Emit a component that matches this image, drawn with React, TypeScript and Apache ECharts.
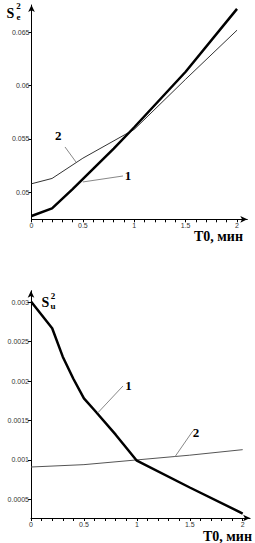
import React, { useEffect, useRef } from "react";
import * as echarts from "echarts";

// ---- data ----
const topCurve1X = [0, 0.2, 0.4, 0.6, 0.8, 1, 1.5, 2];
const topCurve1Y = [0.04778, 0.0485, 0.0503, 0.0522, 0.0541, 0.0561, 0.0613, 0.0672];
const topCurve2X = [0, 0.2, 0.5, 1, 1.5, 2];
const topCurve2Y = [0.0508, 0.0513, 0.0532, 0.0559, 0.0606, 0.0652];

const botCurve1X = [0, 0.2, 0.3, 0.4, 0.5, 0.6, 0.8, 1, 1.5, 2];
const botCurve1Y = [0.00301, 0.00267, 0.00231, 0.00203, 0.00178, 0.00163, 0.00132, 0.00099, 0.00065, 0.00032];
const botCurve2X = [0, 0.5, 1, 1.5, 2];
const botCurve2Y = [0.00091, 0.00094, 0.001, 0.00106, 0.00113];

const xLabelValues = [0, 0.5, 1, 1.5, 2];
const xTickValues = [0, 0.1, 0.2, 0.3, 0.4, 0.5, 0.6, 0.7, 0.8, 0.9, 1, 1.1, 1.2, 1.3, 1.4, 1.5, 1.6, 1.7, 1.8, 1.9, 2];
const topYTicks = [0.05, 0.055, 0.06, 0.065];
const botYTicks = [0.0005, 0.001, 0.0015, 0.002, 0.0025, 0.003];

// annotation leader lines (data coordinates) and label anchors
const topLeader2 = [[0.433, 0.05284], [0.326, 0.05425]];
const topLabel2 = [0.26, 0.0553];
const topLeader1 = [[0.5, 0.05097], [0.89, 0.05153]];
const topLabel1 = [0.94, 0.05155];
const botLeader1 = [[0.633, 0.0016], [0.869, 0.001938]];
const botLabel1 = [0.92, 0.00194];
const botLeader2 = [[1.36, 0.00104], [1.53, 0.00137]];
const botLabel2 = [1.56, 0.00135];

const xAxisLabel = "T0, мин";

const zip = (xs: number[], ys: number[]) => xs.map((x, i) => [x, ys[i]]);

const serif = "'Liberation Serif', 'DejaVu Serif', serif";
const sans = "'Liberation Sans', Arial, sans-serif";

function makeXAxis(gridIndex: number, max: number) {
  return {
    type: "value",
    gridIndex,
    min: 0,
    max,
    axisLine: {
      show: true,
      onZero: false,
      symbol: ["none", "arrow"],
      symbolSize: [5, 7],
      lineStyle: { color: "#000", width: 1 },
    },
    axisTick: { show: true, length: 3, customValues: xTickValues, lineStyle: { color: "#000", width: 1 } },
    axisLabel: {
      show: true,
      customValues: xLabelValues,
      fontSize: 7,
      color: "#333",
      fontFamily: sans,
      margin: 3,
      formatter: (v: number) => String(v),
    },
    splitLine: { show: false },
  };
}

function makeYAxis(gridIndex: number, min: number, max: number, ticks: number[]) {
  return {
    type: "value",
    gridIndex,
    min,
    max,
    axisLine: {
      show: true,
      onZero: false,
      symbol: ["none", "arrow"],
      symbolSize: [5, 7],
      lineStyle: { color: "#000", width: 1 },
    },
    axisTick: { show: true, length: 3, customValues: ticks, lineStyle: { color: "#000", width: 1 } },
    axisLabel: {
      show: true,
      customValues: ticks,
      fontSize: 7,
      color: "#333",
      fontFamily: sans,
      margin: 2,
      formatter: (v: number) => String(v),
    },
    splitLine: { show: false },
  };
}

const leaderStyle = { color: "#888", width: 1, type: "solid" };
const curveLabel = (coord: number[], text: string) => ({
  coord,
  label: {
    show: true,
    position: "inside",
    formatter: text,
    fontFamily: serif,
    fontWeight: "bold",
    fontSize: 13,
    color: "#000",
  },
});

export default function App() {
  const ref = useRef<HTMLDivElement>(null);
  useEffect(() => {
    if (!ref.current) return;
    const chart = echarts.init(ref.current, null, { renderer: "svg" });
    const option: any = {
      animation: false,
      backgroundColor: "#fff",
      grid: [
        { left: 31.5, top: 5, width: 215.8, height: 214.3 },
        { left: 31, top: 290.7, width: 219.1, height: 227.3 },
      ],
      xAxis: [makeXAxis(0, 2.1), makeXAxis(1, 2.07)],
      yAxis: [
        makeYAxis(0, 0.04747, 0.06756, topYTicks),
        makeYAxis(1, 0.000263, 0.003147, botYTicks),
      ],
      series: [
        {
          type: "line",
          xAxisIndex: 0,
          yAxisIndex: 0,
          data: zip(topCurve2X, topCurve2Y),
          showSymbol: false,
          lineStyle: { color: "#333", width: 1 },
          markLine: {
            silent: true,
            symbol: ["none", "none"],
            label: { show: false },
            lineStyle: leaderStyle,
            data: [[{ coord: topLeader2[0] }, { coord: topLeader2[1] }]],
          },
          markPoint: {
            silent: true,
            symbol: "circle",
            symbolSize: 1,
            itemStyle: { color: "rgba(0,0,0,0)" },
            data: [curveLabel(topLabel2, "2")],
          },
          z: 2,
        },
        {
          type: "line",
          xAxisIndex: 0,
          yAxisIndex: 0,
          data: zip(topCurve1X, topCurve1Y),
          showSymbol: false,
          lineStyle: { color: "#000", width: 2.5 },
          markLine: {
            silent: true,
            symbol: ["none", "none"],
            label: { show: false },
            lineStyle: leaderStyle,
            data: [[{ coord: topLeader1[0] }, { coord: topLeader1[1] }]],
          },
          markPoint: {
            silent: true,
            symbol: "circle",
            symbolSize: 1,
            itemStyle: { color: "rgba(0,0,0,0)" },
            data: [curveLabel(topLabel1, "1")],
          },
          z: 3,
        },
        {
          type: "line",
          xAxisIndex: 1,
          yAxisIndex: 1,
          data: zip(botCurve2X, botCurve2Y),
          showSymbol: false,
          lineStyle: { color: "#555", width: 1 },
          markLine: {
            silent: true,
            symbol: ["none", "none"],
            label: { show: false },
            lineStyle: leaderStyle,
            data: [[{ coord: botLeader2[0] }, { coord: botLeader2[1] }]],
          },
          markPoint: {
            silent: true,
            symbol: "circle",
            symbolSize: 1,
            itemStyle: { color: "rgba(0,0,0,0)" },
            data: [curveLabel(botLabel2, "2")],
          },
          z: 2,
        },
        {
          type: "line",
          xAxisIndex: 1,
          yAxisIndex: 1,
          data: zip(botCurve1X, botCurve1Y),
          showSymbol: false,
          lineStyle: { color: "#000", width: 2.5 },
          markLine: {
            silent: true,
            symbol: ["none", "none"],
            label: { show: false },
            lineStyle: leaderStyle,
            data: [[{ coord: botLeader1[0] }, { coord: botLeader1[1] }]],
          },
          markPoint: {
            silent: true,
            symbol: "circle",
            symbolSize: 1,
            itemStyle: { color: "rgba(0,0,0,0)" },
            data: [curveLabel(botLabel1, "1")],
          },
          z: 3,
        },
      ],
      graphic: [
        // top y title: S_e^2
        { type: "text", x: 10.5, y: 13.5, style: { text: "S", font: `bold 14px ${serif}`, fill: "#000", align: "center", verticalAlign: "middle" } },
        { type: "text", x: 18.5, y: 6, style: { text: "2", font: `bold 9px ${serif}`, fill: "#000", align: "center", verticalAlign: "middle" } },
        { type: "text", x: 18.5, y: 16.5, style: { text: "e", font: `bold 9px ${serif}`, fill: "#000", align: "center", verticalAlign: "middle" } },
        // bottom y title: S_u^2
        { type: "text", x: 45.3, y: 302.5, style: { text: "S", font: `bold 14px ${serif}`, fill: "#000", align: "center", verticalAlign: "middle" } },
        { type: "text", x: 53, y: 296, style: { text: "2", font: `bold 9px ${serif}`, fill: "#000", align: "center", verticalAlign: "middle" } },
        { type: "text", x: 53, y: 305.5, style: { text: "u", font: `bold 9px ${serif}`, fill: "#000", align: "center", verticalAlign: "middle" } },
        // x axis titles
        { type: "text", x: 194, y: 236.5, style: { text: xAxisLabel, font: `bold 14px ${serif}`, fill: "#000", align: "left", verticalAlign: "middle" } },
        { type: "text", x: 203, y: 536.5, style: { text: xAxisLabel, font: `bold 14px ${serif}`, fill: "#000", align: "left", verticalAlign: "middle" } },
      ],
    };
    chart.setOption(option);
    return () => chart.dispose();
  }, []);
  return (
    <div
      ref={ref}
      style={{ position: "fixed", left: 0, top: 0, width: 255, height: 543, background: "#fff" }}
    />
  );
}
